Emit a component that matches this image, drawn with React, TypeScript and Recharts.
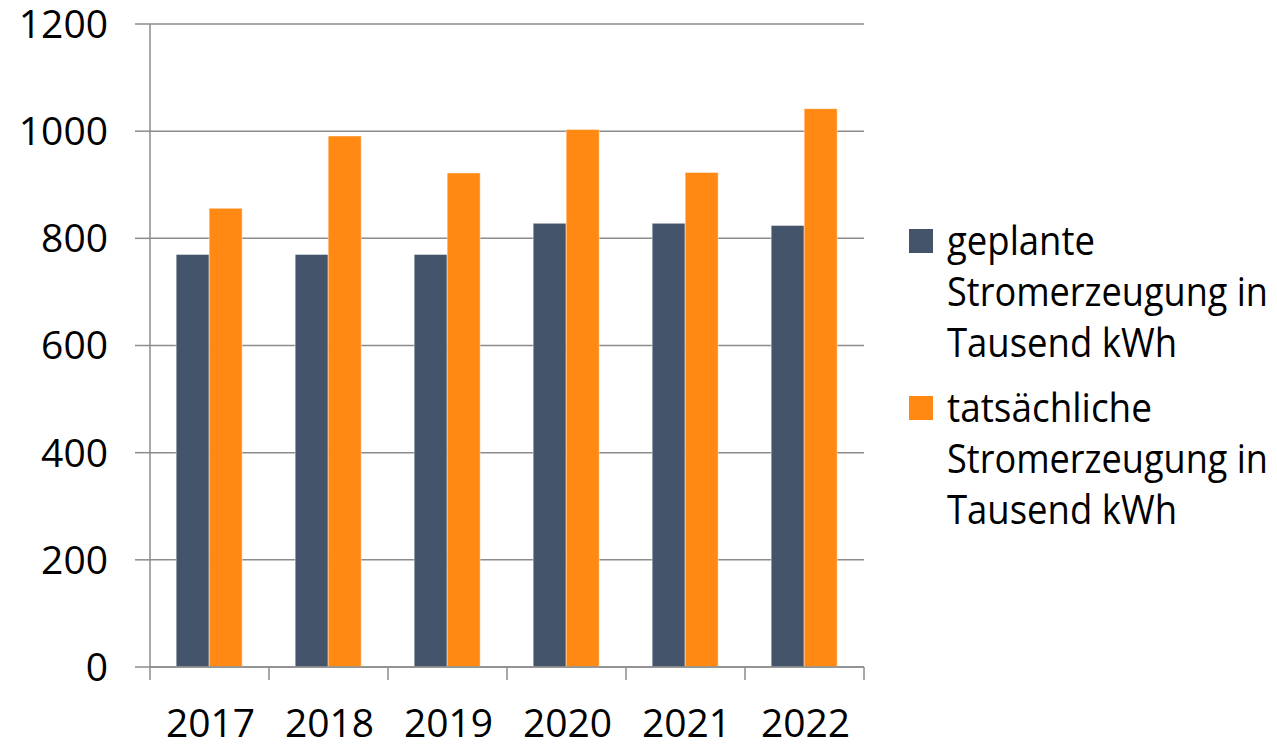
import { BarChart, Bar, XAxis, YAxis, CartesianGrid } from "recharts"

const years = ["2017", "2018", "2019", "2020", "2021", "2022"]
const planned = [770, 770, 770, 828, 828, 824]
const actual = [856, 991, 922, 1003, 923, 1042]
const yTicks = [0, 200, 400, 600, 800, 1000, 1200]

const seriesKeys = ["planned", "actual"]
const seriesNames = [
  "geplante Stromerzeugung in Tausend kWh",
  "tatsächliche Stromerzeugung in Tausend kWh",
]
const legendLines = [
  ["geplante", "Stromerzeugung in", "Tausend kWh"],
  ["tatsächliche", "Stromerzeugung in", "Tausend kWh"],
]
const seriesColors = ["#44546a", "#ff8912"]

const data = years.map((year, i) => ({ year, planned: planned[i], actual: actual[i] }))

const W = 1277
const H = 745
const MARGIN = { top: 24, right: 413, bottom: 0, left: 0 }
const Y_AXIS_W = 150
const X_AXIS_H = 78
const PLOT_W = W - MARGIN.right - Y_AXIS_W
const FONT = "'Open Sans', sans-serif"
const AXIS = "#8c8c8c"

// rendered widths of the legend lines in the original (narrower face than Open Sans)
const lineWidth: Record<string, number> = {
  geplante: 148,
  "tatsächliche": 205,
  "Stromerzeugung in": 321,
  "Tausend kWh": 230,
}

function YearTick(props: any) {
  const { x, y, payload, index } = props
  const step = PLOT_W / years.length
  const axisY = y - 44
  return (
    <g>
      <line x1={x - step / 2} x2={x - step / 2} y1={axisY} y2={axisY + 13} stroke={AXIS} strokeWidth={1.5} />
      {index === years.length - 1 && (
        <line x1={x + step / 2} x2={x + step / 2} y1={axisY} y2={axisY + 13} stroke={AXIS} strokeWidth={1.5} />
      )}
      <text x={x + 1} y={y + 26} textAnchor="middle" fontSize={39} fontFamily={FONT} fill="#000">
        {payload.value}
      </text>
    </g>
  )
}

function SideLegend() {
  return (
    <svg width={387} height={345} style={{ position: "absolute", left: 890, top: 200 }}>
      {seriesNames.map((name, g) => (
        <g key={name}>
          <rect x={19} y={29 + g * 167} width={24} height={24} fill={seriesColors[g]} />
          {legendLines[g].map((line, l) => (
            <text
              key={l}
              x={57}
              y={55 + g * 167 + l * 51}
              fontSize={40}
              fontFamily={FONT}
              fill="#000"
              textLength={lineWidth[line]}
              lengthAdjust="spacingAndGlyphs"
            >
              {line}
            </text>
          ))}
        </g>
      ))}
    </svg>
  )
}

export default function App() {
  return (
    <div style={{ position: "absolute", left: 0, top: 0, width: W, height: H, background: "#fff" }}>
      <BarChart width={W} height={H} data={data} margin={MARGIN} barCategoryGap="22%" barGap={0}>
        <CartesianGrid vertical={false} stroke={AXIS} strokeWidth={1.5} />
        <XAxis
          dataKey="year"
          height={X_AXIS_H}
          interval={0}
          tickLine={false}
          tickSize={13}
          tickMargin={31}
          axisLine={{ stroke: AXIS, strokeWidth: 1.5 }}
          tick={<YearTick />}
        />
        <YAxis
          width={Y_AXIS_W}
          domain={[0, 1200]}
          ticks={yTicks}
          interval={0}
          tickSize={15}
          tickMargin={27}
          tickLine={{ stroke: AXIS, strokeWidth: 1.5 }}
          axisLine={{ stroke: AXIS, strokeWidth: 1.5 }}
          tick={{ fontSize: 39, fontFamily: FONT, fill: "#000" }}
        />
        {seriesKeys.map((key, i) => (
          <Bar
            key={key}
            dataKey={key}
            name={seriesNames[i]}
            fill={seriesColors[i]}
            stroke="#ffffff"
            strokeOpacity={0.45}
            strokeWidth={1}
            isAnimationActive={false}
          />
        ))}
      </BarChart>
      <SideLegend />
    </div>
  )
}
